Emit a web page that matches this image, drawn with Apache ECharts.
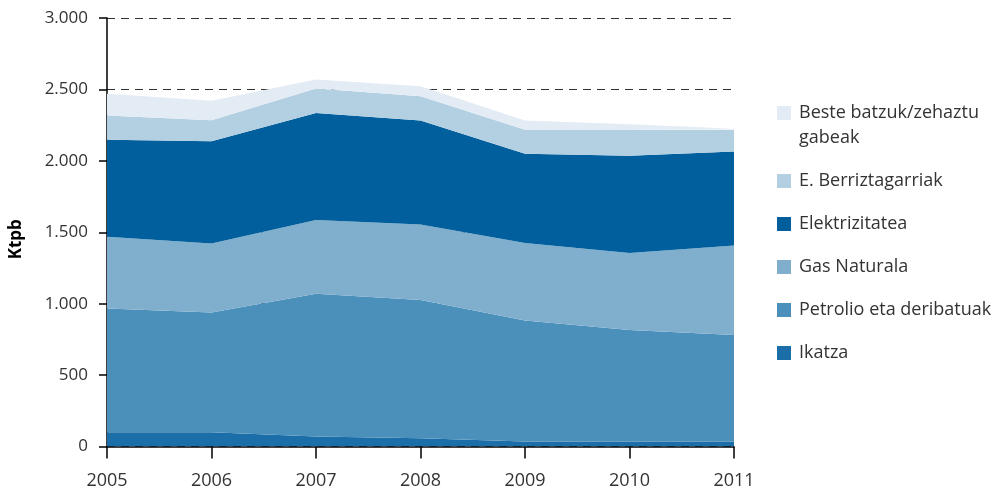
<!DOCTYPE html>
<html>
<head>
<meta charset="utf-8">
<script src="https://cdn.jsdelivr.net/npm/echarts@6/dist/echarts.min.js"></script>
<style>html,body{margin:0;padding:0;background:#fff}#c{width:1001px;height:492px}</style>
</head>
<body>
<div id="c"></div>
<script>
const years = ['2005','2006','2007','2008','2009','2010','2011'];
const ikatza = [100, 100, 70, 57, 35, 35, 35];
const petrolio = [866, 838, 999, 968, 847, 781, 746];
const gasNaturala = [502, 483, 516, 530, 542, 538, 627];
const elektrizitatea = [680, 716, 750, 727, 626, 682, 658];
const berriztagarriak = [169, 147, 171, 170, 168, 182, 152];
const beste = [152, 136, 63, 70, 64, 38, 7];
const yTicks = [0, 500, 1000, 1500, 2000, 2500, 3000];

const names = ['Ikatza','Petrolio eta deribatuak','Gas Naturala','Elektrizitatea','E. Berriztagarriak','Beste batzuk/zehaztu gabeak'];
const values = [ikatza, petrolio, gasNaturala, elektrizitatea, berriztagarriak, beste];
const colors = ['#1b6ea7','#4b8fbb','#80afcd','#005f9c','#b3cfe2','#e3ecf4'];

const FONT = '"Open Sans", "Noto Sans", sans-serif';
const chart = echarts.init(document.getElementById('c'), null, {renderer:'canvas'});
chart.setOption({
  animation:false,
  textStyle:{fontFamily:FONT},
  grid:{left:107, right:267, top:18, bottom:45.5, containLabel:false},
  legend:{
    orient:'vertical', left:777, top:75.5, padding:0, itemGap:18,
    itemWidth:14, itemHeight:14, icon:'rect',
    textStyle:{fontFamily:FONT, fontSize:18, color:'#333', lineHeight:25, padding:[0,0,0,3]},
    formatter: n => n === 'Beste batzuk/zehaztu gabeak' ? '\nBeste batzuk/zehaztu\ngabeak' : n,
    data: names.slice().reverse()
  },
  xAxis:{
    type:'category', data:years, boundaryGap:false,
    axisLine:{lineStyle:{color:'#000', width:1.5}},
    axisTick:{show:true, length:12, lineStyle:{color:'#000', width:1.5}},
    axisLabel:{fontFamily:FONT, fontSize:18, color:'#333', margin:25}
  },
  yAxis:{
    type:'value', min:0, max:3000, interval:500,
    name:'Ktpb', nameLocation:'middle', nameGap:82, nameRotate:90,
    nameTextStyle:{fontFamily:FONT, fontSize:17, fontWeight:'bold', color:'#000', padding:[0,14,0,0]},
    axisLine:{show:true, lineStyle:{color:'#000', width:1.5}},
    axisTick:{show:true, length:8, lineStyle:{color:'#000', width:1.5}},
    axisLabel:{fontFamily:FONT, fontSize:17, color:'#333', margin:19,
      formatter: v => yTicks.includes(v) ? v.toLocaleString('de-DE') : ''},
    splitLine:{show:true, lineStyle:{color:'#333', type:[8,6], width:1}}
  },
  series: names.map((n,i) => ({
    name:n, type:'line', stack:'total', data:values[i],
    symbol:'none', lineStyle:{width:0}, color:colors[i],
    areaStyle:{color:colors[i], opacity:1}
  }))
});
</script>
</body>
</html>
